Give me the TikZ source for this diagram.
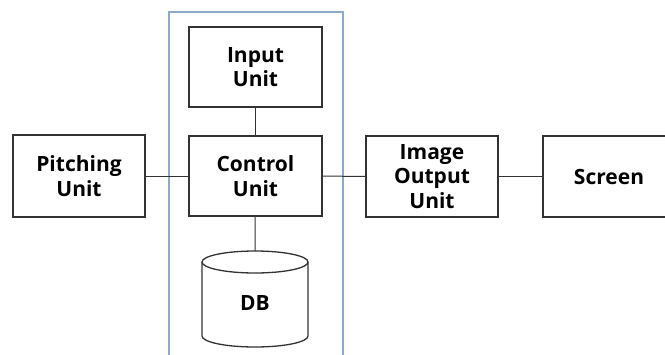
\documentclass[tikz,border=0pt]{standalone}
\usepackage{fontspec}
\setmainfont{Open Sans}
\definecolor{frameblue}{HTML}{8EA9CB}
\definecolor{boxline}{HTML}{333333}
\begin{document}
\begin{tikzpicture}[x=1pt,y=-1pt,
  lbl/.style={font=\fontsize{21}{24.5}\selectfont\bfseries,align=center,inner sep=0pt},
  unitbox/.style={lbl,draw=boxline,line width=1.3pt,minimum width=133pt,minimum height=80pt},
  link/.style={draw=boxline,line width=1pt},
  dbline/.style={draw=boxline,line width=1.3pt}]
\useasboundingbox (0,0) rectangle (665,354);
\begin{scope}
\clip (0,0) rectangle (665,354);
\draw[frameblue,line width=1.5pt] (169,360) -- (169,12) -- (343,12) -- (343,360);
\node[unitbox] (input) at (255.5,67) {Input\\Unit};
\node[unitbox] (control) at (255.5,176) {Control\\Unit};
\node[unitbox,minimum width=132pt,minimum height=82pt] (pitch) at (79,176) {Pitching\\Unit};
\node[unitbox,minimum width=132pt,minimum height=81pt] (image) at (432,176.5) {Image\\Output\\Unit};
\node[unitbox,minimum width=132pt,minimum height=81pt] (screen) at (609,176.5) {Screen};
% DB cylinder
\draw[dbline,fill=white] (202,262) -- (202,336) arc[start angle=180,end angle=0,x radius=53,y radius=11]
  -- (308,262) arc[start angle=0,end angle=-180,x radius=53,y radius=11] -- cycle;
\draw[dbline] (202,262) arc[start angle=180,end angle=0,x radius=53,y radius=11];
\coordinate (dbtop) at (255,251);
\node[lbl] (db) at (255,303) {DB};
\draw[link] (input) -- (control);
\draw[link] (control) -- (dbtop);
\draw[link] (pitch) -- (control);
\draw[link] (control) -- (image);
\draw[link] (image) -- (screen);
\end{scope}
\end{tikzpicture}
\end{document}
